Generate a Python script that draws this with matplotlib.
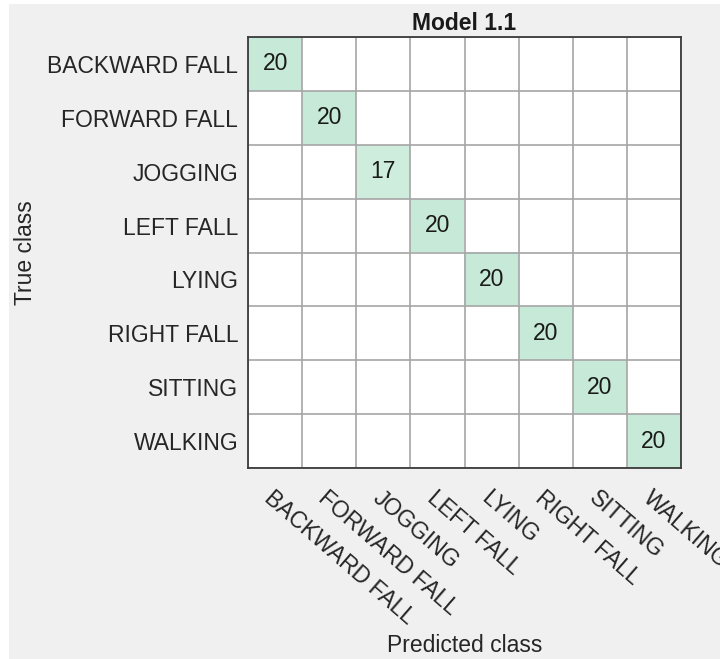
import numpy as np
import matplotlib
matplotlib.use("Agg")
import matplotlib.pyplot as plt
from matplotlib.colors import LinearSegmentedColormap
from matplotlib.patches import Rectangle
from matplotlib.transforms import ScaledTranslation

classes = ["BACKWARD FALL", "FORWARD FALL", "JOGGING", "LEFT FALL",
           "LYING", "RIGHT FALL", "SITTING", "WALKING"]
diag_counts = [20, 20, 17, 20, 20, 20, 20, 20]
title = "Model 1.1"

cm = np.diag(diag_counts)

plt.rcParams['font.family'] = ['Liberation Sans', 'DejaVu Sans']
FS = 16.5

fig = plt.figure(figsize=(7.2, 6.59), dpi=100, facecolor='white')
fig.patches.append(Rectangle((9/720, 0), 1, 1 - 4/659, transform=fig.transFigure,
                             facecolor='#f0f0f0', edgecolor='none', zorder=-10))

ax = fig.add_axes([248/720, 1 - 468/659, 433/720, 431/659])
cmap = LinearSegmentedColormap.from_list("g", ["#ffffff", "#c6ead7"])
ax.imshow(cm, cmap=cmap, vmin=0, vmax=20, aspect='auto')

n = len(classes)
for i in range(n):
    for j in range(n):
        if cm[i, j] > 0:
            ax.text(j, i, str(cm[i, j]), ha='center', va='center',
                    fontsize=FS, color='#1a1a1a')

ax.set_xticks(np.arange(n))
ax.set_yticks(np.arange(n))
ax.set_yticklabels(classes, fontsize=FS, color='#262626')
ax.set_xticklabels(classes, fontsize=FS, color='#262626', rotation=-41,
                   ha='left', va='top', rotation_mode='anchor')
off = ScaledTranslation(-14/100, 0, fig.dpi_scale_trans)
for lab in ax.get_xticklabels():
    lab.set_transform(lab.get_transform() + off)
ax.set_xticks(np.arange(-0.5, n), minor=True)
ax.set_yticks(np.arange(-0.5, n), minor=True)
ax.grid(which='minor', color='#a6a6a6', linewidth=1.2)
ax.tick_params(which='both', length=0)
ax.tick_params(axis='y', pad=7)
ax.tick_params(axis='x', pad=13)
for s in ax.spines.values():
    s.set_color('#3c3c3c')
    s.set_linewidth(1.3)

ax.set_title(title, fontsize=FS, fontweight='bold', color='#1a1a1a', pad=5)
ax.set_xlabel("Predicted class", fontsize=FS, color='#262626')
ax.xaxis.set_label_coords(0.5, (1 - 646/659 - (1 - 468/659)) / (431/659), transform=ax.transAxes)
ax.xaxis.label.set_va('center')
ax.set_ylabel("True class", fontsize=FS, color='#262626')
ax.yaxis.set_label_coords((25 - 248) / 433, 0.5, transform=ax.transAxes)
ax.yaxis.label.set_va('center')

fig.savefig("out.png", dpi=100, facecolor=fig.get_facecolor())
